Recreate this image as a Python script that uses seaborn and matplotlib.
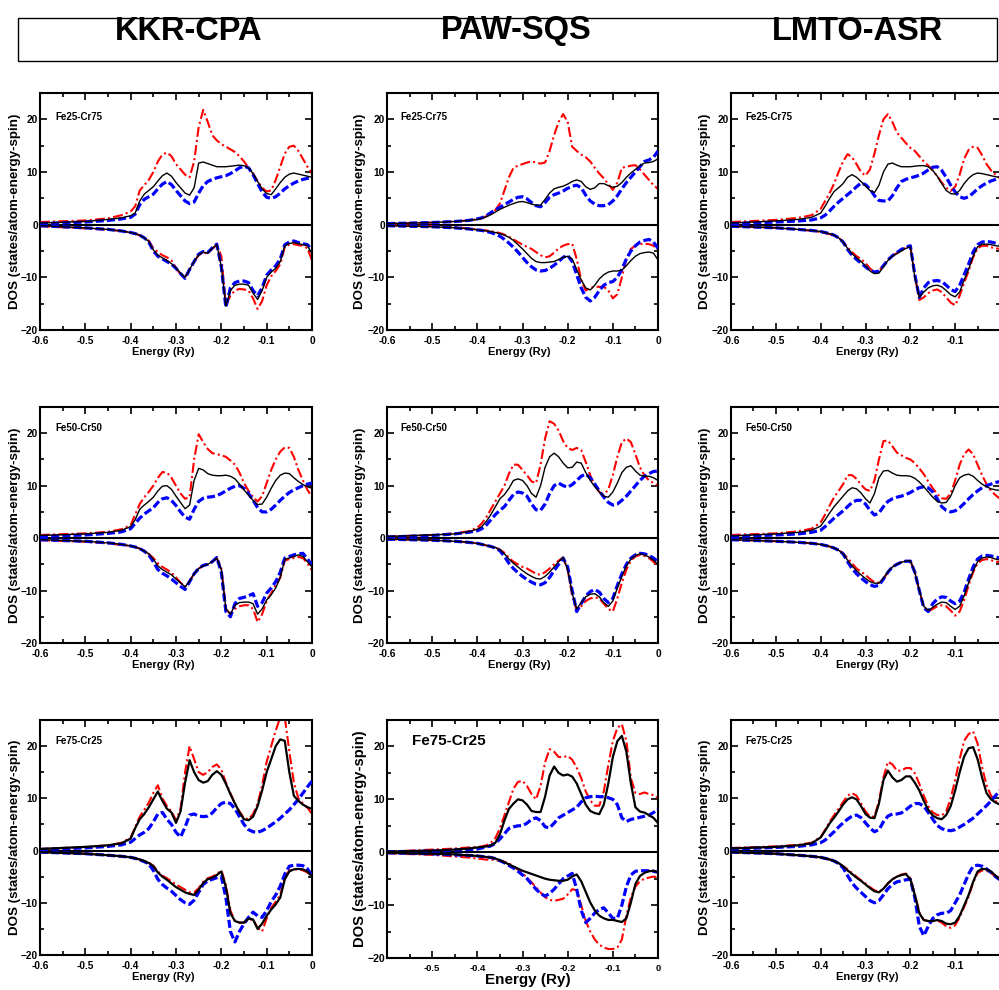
import matplotlib
matplotlib.use("Agg")
import matplotlib.pyplot as plt
from matplotlib.ticker import MultipleLocator, FixedLocator, FuncFormatter
from matplotlib.patches import Rectangle
import seaborn as sns

sns.set_theme(style="ticks")
plt.rcParams["font.family"] = ["Liberation Sans", "DejaVu Sans"]
plt.rcParams["text.color"] = "black"
plt.rcParams["axes.labelcolor"] = "black"
plt.rcParams["xtick.color"] = "black"
plt.rcParams["ytick.color"] = "black"

# ---------------- data ----------------
methods = ["KKR-CPA", "PAW-SQS", "LMTO-ASR"]
alloys = ["Fe25-Cr75", "Fe50-Cr50", "Fe75-Cr25"]

energy = [-0.60, -0.50, -0.45, -0.42,
          -0.40, -0.39, -0.38, -0.37, -0.36, -0.35, -0.34, -0.33, -0.32, -0.31,
          -0.30, -0.29, -0.28, -0.27, -0.26, -0.25, -0.24, -0.23, -0.22, -0.21,
          -0.20, -0.19, -0.18, -0.17, -0.16, -0.15, -0.14, -0.13, -0.12, -0.11,
          -0.10, -0.09, -0.08, -0.07, -0.06, -0.05, -0.04, -0.03, -0.02, -0.01,
          0.00]

# KKR-CPA, Fe25-Cr75
kkr25_tot_up = [0.3, 0.6, 1.0, 1.3, 1.7, 2.2, 4.5, 5.8, 6.5, 7.2, 8.3, 9.3, 9.8, 9.2, 8.0, 7.0, 6.0, 5.6, 7.0, 11.7, 11.9, 11.6, 11.3, 11.0, 11.0, 11.0, 11.1, 11.2, 11.3, 11.2, 10.8, 9.7, 8.2, 6.8, 5.9, 5.7, 6.8, 8.0, 9.0, 9.6, 9.8, 9.6, 9.4, 9.2, 9.0]
kkr25_fe_up = [0.5, 0.8, 1.2, 1.8, 2.5, 3.5, 6.5, 7.5, 8.5, 10.0, 12.0, 13.3, 13.7, 13.0, 11.5, 10.5, 9.5, 9.0, 12.0, 18.5, 21.8, 19.5, 17.0, 16.0, 15.3, 14.8, 14.3, 13.8, 13.0, 12.0, 10.8, 9.7, 8.3, 7.0, 6.3, 6.5, 8.5, 11.0, 13.5, 14.8, 15.0, 14.0, 12.5, 11.0, 9.7]
kkr25_cr_up = [0.2, 0.5, 0.8, 1.1, 1.4, 2.0, 3.8, 4.8, 5.3, 5.8, 6.8, 7.7, 8.2, 7.6, 6.5, 5.5, 4.5, 4.0, 4.3, 6.0, 7.4, 8.2, 8.6, 8.9, 9.1, 9.3, 9.7, 10.2, 10.8, 11.1, 10.8, 9.5, 7.8, 6.2, 5.2, 5.0, 5.3, 6.0, 6.8, 7.4, 7.9, 8.3, 8.6, 8.8, 8.9]
kkr25_tot_dn = [-0.2, -0.6, -0.9, -1.2, -1.5, -1.7, -2.0, -2.5, -3.2, -4.8, -5.8, -6.3, -6.8, -7.4, -8.2, -9.2, -10.0, -8.5, -7.0, -5.7, -5.2, -5.4, -4.5, -3.8, -8.0, -15.5, -12.5, -11.5, -11.3, -11.3, -11.5, -13.0, -14.2, -12.5, -10.0, -9.0, -8.3, -7.0, -4.0, -3.6, -3.4, -3.6, -3.8, -4.0, -5.5]
kkr25_fe_dn = [-0.3, -0.7, -1.0, -1.2, -1.5, -1.7, -2.0, -2.5, -3.0, -4.5, -5.2, -5.8, -6.2, -6.8, -8.2, -9.5, -10.0, -8.5, -7.0, -5.8, -5.3, -5.5, -4.6, -3.8, -6.0, -15.3, -13.5, -12.5, -12.2, -12.3, -12.5, -14.0, -16.0, -14.5, -11.5, -9.8, -8.8, -7.5, -4.2, -3.8, -3.7, -3.9, -4.0, -4.5, -6.8]
kkr25_cr_dn = [-0.2, -0.6, -0.9, -1.2, -1.5, -1.7, -2.0, -2.5, -3.3, -5.0, -6.0, -6.5, -7.0, -7.5, -8.3, -9.3, -10.2, -8.5, -7.0, -5.6, -5.1, -5.3, -4.4, -3.7, -8.0, -15.7, -12.0, -11.0, -10.7, -10.7, -11.0, -12.5, -13.5, -12.0, -9.6, -8.6, -7.8, -6.5, -3.8, -3.3, -3.1, -3.4, -3.6, -3.8, -4.8]

# PAW-SQS, Fe25-Cr75
paw25_tot_up = [0.2, 0.4, 0.6, 0.8, 1.0, 1.2, 1.5, 1.9, 2.4, 2.9, 3.3, 3.7, 4.0, 4.3, 4.4, 4.2, 3.9, 3.7, 3.7, 4.8, 6.0, 6.8, 7.1, 7.3, 7.7, 8.2, 8.5, 8.2, 7.2, 6.7, 7.0, 7.8, 7.8, 7.4, 7.1, 7.3, 8.0, 9.0, 9.8, 10.5, 11.2, 11.7, 11.8, 12.0, 12.5]
paw25_fe_up = [0.2, 0.4, 0.6, 0.8, 1.0, 1.2, 1.6, 2.0, 2.8, 4.0, 6.5, 9.0, 10.8, 11.2, 11.5, 11.8, 12.0, 11.8, 11.6, 11.8, 14.0, 17.0, 19.5, 21.0, 19.5, 14.8, 14.0, 13.3, 12.8, 12.0, 10.8, 9.7, 8.8, 7.7, 6.6, 8.0, 10.8, 11.0, 11.2, 11.3, 10.5, 9.5, 8.5, 7.5, 6.8]
paw25_cr_up = [0.2, 0.4, 0.6, 0.8, 1.1, 1.3, 1.7, 2.3, 2.8, 3.3, 3.8, 4.3, 4.8, 5.2, 5.3, 4.9, 4.2, 3.6, 3.4, 4.2, 5.2, 5.7, 6.0, 6.4, 6.9, 7.3, 7.5, 7.0, 5.6, 4.5, 3.9, 3.6, 3.6, 3.8, 4.5, 5.5, 6.8, 8.0, 9.0, 10.0, 11.0, 12.0, 12.3, 12.8, 14.0]
paw25_tot_dn = [-0.2, -0.4, -0.6, -0.8, -1.0, -1.1, -1.2, -1.3, -1.5, -1.7, -2.0, -2.4, -3.0, -3.8, -4.6, -5.5, -6.4, -7.0, -7.2, -7.2, -7.1, -7.0, -6.6, -6.2, -6.0, -6.5, -8.5, -10.5, -12.0, -12.4, -11.5, -10.3, -9.5, -9.0, -8.8, -8.8, -8.6, -7.8, -6.8, -6.0, -5.5, -5.3, -5.2, -5.4, -6.7]
paw25_fe_dn = [-0.1, -0.3, -0.5, -0.7, -0.9, -1.0, -1.1, -1.2, -1.4, -1.6, -1.9, -2.3, -2.8, -3.3, -3.8, -4.2, -4.6, -5.2, -5.8, -6.2, -6.0, -5.3, -4.5, -4.0, -3.7, -3.6, -6.5, -10.5, -12.5, -12.0, -11.8, -11.8, -11.8, -12.5, -14.0, -13.2, -10.0, -6.5, -4.6, -4.0, -3.7, -3.6, -3.7, -4.0, -4.8]
paw25_cr_dn = [-0.2, -0.4, -0.6, -0.8, -1.0, -1.1, -1.3, -1.5, -1.8, -2.2, -2.8, -3.5, -4.3, -5.2, -6.2, -7.2, -8.0, -8.6, -8.8, -8.7, -8.3, -7.7, -7.0, -6.2, -5.8, -7.0, -9.5, -12.0, -13.8, -14.5, -13.8, -12.5, -11.5, -11.0, -10.8, -10.0, -8.5, -6.5, -5.0, -4.0, -3.3, -3.0, -2.8, -3.3, -4.5]

# LMTO-ASR, Fe25-Cr75
lmto25_tot_up = [0.3, 0.7, 1.0, 1.4, 2.2, 3.5, 5.0, 6.3, 7.0, 7.8, 9.0, 9.5, 9.0, 8.2, 7.3, 6.5, 6.1, 7.5, 10.0, 11.5, 11.7, 11.3, 11.0, 11.0, 11.0, 11.1, 11.2, 11.2, 11.0, 10.3, 9.2, 7.8, 6.5, 5.9, 5.8, 6.5, 7.8, 8.8, 9.5, 9.8, 9.7, 9.5, 9.3, 9.1, 9.0]
lmto25_fe_up = [0.5, 0.9, 1.3, 1.8, 3.0, 4.5, 6.0, 7.8, 10.0, 12.0, 13.4, 12.8, 11.5, 10.0, 9.3, 10.5, 13.5, 17.0, 20.0, 21.0, 19.5, 17.5, 16.5, 15.5, 14.6, 14.0, 13.0, 12.0, 11.2, 10.3, 9.2, 8.0, 7.0, 6.4, 7.2, 9.5, 12.5, 14.2, 14.8, 14.6, 13.2, 11.5, 10.3, 9.5, 8.8]
lmto25_cr_up = [0.2, 0.5, 0.7, 0.9, 1.3, 1.8, 2.6, 3.5, 4.3, 5.0, 5.7, 6.4, 7.2, 7.9, 7.6, 6.8, 5.5, 4.6, 4.5, 4.5, 5.5, 7.0, 8.2, 8.6, 8.9, 9.1, 9.4, 9.8, 10.4, 10.9, 11.0, 10.3, 9.0, 7.5, 6.2, 5.3, 5.0, 5.3, 6.0, 6.8, 7.4, 7.9, 8.3, 8.6, 8.9]
lmto25_tot_dn = [-0.3, -0.6, -0.9, -1.1, -1.3, -1.5, -1.7, -2.0, -2.5, -3.3, -4.5, -5.5, -6.3, -7.0, -7.8, -8.8, -9.3, -9.2, -8.0, -6.8, -6.0, -5.5, -5.0, -4.5, -4.2, -10.0, -13.8, -12.8, -12.0, -11.6, -11.5, -11.8, -12.5, -13.3, -13.7, -12.8, -10.5, -8.5, -6.0, -4.2, -3.7, -3.7, -3.8, -4.0, -4.1]
lmto25_fe_dn = [-0.3, -0.6, -0.9, -1.2, -1.4, -1.6, -1.8, -2.1, -2.5, -3.2, -4.3, -5.2, -6.0, -6.5, -7.3, -8.3, -9.0, -8.8, -7.7, -6.6, -5.9, -5.4, -4.8, -4.3, -4.1, -9.5, -14.3, -13.8, -13.0, -12.5, -12.3, -12.8, -13.8, -14.8, -15.3, -13.5, -11.0, -8.8, -6.2, -4.5, -4.0, -4.0, -4.3, -4.5, -4.6]
lmto25_cr_dn = [-0.3, -0.6, -0.9, -1.1, -1.3, -1.5, -1.7, -2.0, -2.5, -3.3, -4.7, -5.8, -6.6, -7.3, -8.0, -8.7, -9.0, -8.8, -7.8, -6.7, -5.9, -5.3, -4.7, -4.3, -4.0, -9.5, -13.8, -12.0, -11.0, -10.7, -10.6, -10.8, -11.5, -12.3, -12.7, -11.5, -9.5, -7.5, -5.2, -3.8, -3.3, -3.2, -3.3, -3.5, -3.7]

# KKR-CPA, Fe50-Cr50
kkr50_tot_up = [0.5, 0.8, 1.1, 1.5, 2.2, 3.5, 5.5, 6.3, 7.0, 7.8, 9.0, 9.9, 10.0, 9.3, 8.0, 6.8, 5.6, 6.3, 11.0, 13.3, 13.0, 12.3, 12.0, 11.9, 11.9, 12.0, 11.8, 11.3, 10.3, 9.2, 8.2, 7.2, 6.4, 6.5, 7.8, 9.5, 11.0, 12.0, 12.4, 12.3, 11.5, 10.8, 10.2, 9.8, 9.5]
kkr50_fe_up = [0.6, 0.9, 1.2, 1.7, 2.5, 4.5, 6.5, 7.8, 8.8, 10.0, 11.5, 12.6, 12.5, 11.5, 10.0, 8.5, 7.5, 7.8, 15.0, 19.8, 18.3, 17.0, 16.2, 16.0, 15.8, 15.5, 14.8, 14.0, 12.5, 10.5, 9.0, 7.8, 7.0, 8.0, 10.5, 13.0, 15.0, 16.5, 17.3, 17.2, 15.5, 13.0, 11.0, 9.2, 7.8]
kkr50_cr_up = [0.3, 0.6, 0.9, 1.2, 1.8, 2.8, 3.8, 4.6, 5.2, 5.8, 6.8, 7.5, 7.7, 7.2, 6.2, 5.0, 4.0, 3.6, 5.5, 7.0, 7.6, 7.8, 7.9, 8.1, 8.5, 9.0, 9.5, 9.9, 10.0, 9.5, 8.5, 7.2, 5.8, 5.0, 5.0, 5.5, 6.3, 7.2, 8.0, 8.7, 9.2, 9.6, 10.0, 10.3, 10.5]
kkr50_tot_dn = [-0.3, -0.6, -0.9, -1.2, -1.5, -1.7, -2.0, -2.5, -3.0, -4.0, -5.3, -6.0, -6.5, -7.0, -7.8, -8.5, -9.3, -8.2, -6.8, -5.8, -5.3, -5.0, -4.5, -3.8, -6.0, -13.5, -14.5, -12.8, -12.3, -12.2, -12.2, -12.5, -14.5, -13.5, -11.8, -10.8, -9.5, -7.5, -4.0, -3.8, -3.5, -3.2, -3.5, -4.5, -5.5]
kkr50_fe_dn = [-0.4, -0.7, -1.0, -1.3, -1.5, -1.7, -2.0, -2.4, -3.0, -3.8, -4.8, -5.5, -6.0, -6.6, -7.5, -8.5, -9.3, -8.2, -6.8, -5.8, -5.3, -5.0, -4.5, -3.8, -5.8, -13.5, -14.5, -13.5, -13.0, -12.8, -12.8, -13.5, -16.0, -14.5, -12.0, -10.5, -9.0, -7.5, -4.3, -4.0, -3.8, -3.6, -3.8, -4.8, -6.2]
kkr50_cr_dn = [-0.3, -0.6, -0.9, -1.2, -1.5, -1.7, -2.0, -2.5, -3.2, -4.5, -6.0, -6.7, -7.2, -7.8, -8.5, -9.2, -9.8, -8.3, -6.8, -5.8, -5.2, -5.0, -4.5, -3.7, -6.5, -14.0, -15.0, -12.5, -11.5, -11.3, -11.0, -10.6, -13.0, -12.3, -10.5, -9.5, -8.3, -6.5, -3.8, -3.5, -3.2, -3.0, -2.9, -4.0, -5.0]

# PAW-SQS, Fe50-Cr50
paw50_tot_up = [0.3, 0.6, 0.8, 1.2, 1.7, 2.2, 3.2, 4.5, 6.0, 7.5, 8.3, 9.5, 11.0, 11.3, 11.0, 10.0, 8.5, 7.8, 10.0, 13.5, 15.5, 16.2, 15.5, 14.3, 13.4, 13.5, 14.5, 14.3, 12.5, 11.0, 9.8, 8.8, 8.0, 7.8, 8.8, 10.5, 12.5, 13.5, 13.8, 12.8, 12.0, 11.8, 11.8, 11.5, 11.0]
paw50_fe_up = [0.3, 0.6, 0.9, 1.3, 2.0, 2.8, 4.0, 5.5, 7.0, 8.5, 10.0, 12.3, 14.0, 14.0, 13.0, 12.0, 10.8, 10.5, 14.0, 19.0, 22.3, 21.8, 20.5, 18.5, 17.2, 16.8, 17.2, 16.8, 14.5, 12.0, 10.0, 8.8, 8.2, 9.3, 12.0, 15.5, 18.3, 19.0, 18.3, 16.0, 13.5, 12.0, 11.0, 10.5, 10.0]
paw50_cr_up = [0.2, 0.5, 0.8, 1.1, 1.4, 1.8, 2.5, 3.5, 4.5, 5.3, 6.0, 7.2, 8.3, 8.8, 8.6, 8.0, 6.5, 5.4, 5.3, 6.5, 8.5, 10.0, 10.5, 10.0, 9.7, 10.2, 11.0, 11.8, 12.2, 11.5, 10.3, 9.0, 7.8, 6.8, 6.3, 6.5, 7.2, 8.0, 9.0, 10.0, 11.0, 11.8, 12.3, 12.7, 12.8]
paw50_tot_dn = [-0.2, -0.4, -0.6, -0.8, -1.0, -1.2, -1.4, -1.6, -1.8, -2.2, -3.0, -4.0, -4.8, -5.5, -6.2, -6.8, -7.3, -7.7, -7.8, -7.3, -6.5, -5.5, -4.5, -3.7, -6.0, -10.5, -13.5, -12.3, -11.2, -10.7, -10.6, -11.2, -12.3, -13.0, -12.0, -9.5, -7.3, -5.3, -4.0, -3.3, -3.0, -3.2, -3.6, -4.2, -5.0]
paw50_fe_dn = [-0.2, -0.4, -0.6, -0.8, -1.0, -1.2, -1.4, -1.6, -1.8, -2.2, -2.8, -3.8, -4.5, -5.0, -5.5, -5.8, -6.3, -6.8, -7.0, -6.5, -5.8, -5.0, -4.3, -3.7, -6.0, -11.0, -13.8, -13.0, -12.0, -11.5, -11.3, -11.5, -12.5, -13.5, -14.0, -11.5, -8.5, -6.0, -4.3, -3.5, -3.2, -3.4, -3.8, -4.5, -5.5]
paw50_cr_dn = [-0.2, -0.4, -0.6, -0.8, -1.0, -1.2, -1.4, -1.6, -1.9, -2.4, -3.5, -4.8, -5.8, -6.6, -7.3, -7.9, -8.4, -8.8, -8.9, -8.5, -7.5, -6.2, -5.0, -3.8, -5.5, -10.0, -14.0, -12.5, -11.0, -10.2, -9.8, -10.3, -11.5, -12.3, -11.5, -9.0, -6.8, -5.0, -3.8, -3.2, -2.9, -3.0, -3.3, -3.8, -4.5]

# LMTO-ASR, Fe50-Cr50
lmto50_tot_up = [0.4, 0.8, 1.1, 1.5, 2.3, 3.5, 4.8, 6.0, 7.0, 8.0, 9.0, 9.6, 9.4, 8.6, 7.5, 6.7, 8.5, 11.5, 12.8, 12.9, 12.4, 12.0, 11.9, 11.9, 11.8, 11.4, 10.7, 9.8, 8.8, 7.8, 7.0, 6.7, 6.8, 8.0, 10.0, 11.5, 12.0, 12.2, 11.8, 11.0, 10.3, 9.8, 9.4, 9.2, 9.1]
lmto50_fe_up = [0.6, 0.9, 1.3, 1.8, 3.0, 4.5, 6.2, 7.8, 9.0, 10.3, 12.0, 12.0, 11.3, 10.2, 9.3, 9.0, 11.0, 15.0, 18.5, 18.6, 17.5, 16.3, 15.8, 15.3, 15.0, 14.3, 13.3, 12.2, 10.8, 9.5, 8.4, 7.6, 7.5, 8.5, 11.0, 14.0, 16.0, 16.9, 16.0, 14.0, 12.0, 10.3, 9.0, 8.2, 7.5]
lmto50_cr_up = [0.3, 0.6, 0.8, 1.1, 1.5, 2.2, 3.0, 3.8, 4.5, 5.2, 6.0, 6.8, 7.2, 7.2, 6.5, 5.3, 4.4, 4.8, 6.0, 7.0, 7.5, 7.8, 8.0, 8.3, 8.7, 9.2, 9.6, 9.8, 9.6, 8.8, 7.5, 6.0, 5.3, 5.0, 5.2, 5.8, 6.6, 7.5, 8.3, 9.0, 9.6, 10.0, 10.3, 10.6, 10.8]
lmto50_tot_dn = [-0.3, -0.6, -0.8, -1.0, -1.2, -1.4, -1.6, -1.9, -2.3, -3.0, -4.2, -5.3, -6.2, -7.0, -7.7, -8.3, -8.6, -8.6, -7.6, -6.4, -5.5, -5.0, -4.6, -4.4, -4.3, -6.5, -10.0, -13.0, -13.8, -13.2, -12.6, -12.2, -12.3, -13.0, -13.6, -13.0, -11.0, -8.5, -6.3, -4.5, -3.8, -3.6, -3.7, -4.0, -4.2]
lmto50_fe_dn = [-0.3, -0.6, -0.8, -1.0, -1.2, -1.4, -1.6, -1.9, -2.3, -2.9, -3.8, -4.8, -5.8, -6.4, -7.0, -7.8, -8.4, -8.5, -7.8, -6.5, -5.5, -5.0, -4.6, -4.4, -4.3, -6.5, -10.0, -13.0, -14.0, -13.5, -13.0, -12.8, -13.0, -13.8, -14.8, -14.0, -11.8, -9.0, -6.5, -4.8, -4.2, -4.0, -4.2, -4.5, -4.6]
lmto50_cr_dn = [-0.3, -0.6, -0.8, -1.0, -1.2, -1.4, -1.6, -1.9, -2.3, -3.0, -4.5, -5.8, -6.8, -7.6, -8.3, -8.9, -9.2, -9.0, -7.8, -6.5, -5.5, -5.0, -4.6, -4.4, -4.4, -6.5, -10.0, -13.3, -14.0, -12.5, -11.6, -11.2, -11.3, -12.0, -12.5, -12.0, -10.3, -7.8, -5.5, -4.0, -3.4, -3.3, -3.4, -3.6, -3.8]

# KKR-CPA, Fe75-Cr25
kkr75_tot_up = [0.3, 0.7, 1.0, 1.4, 2.3, 4.3, 6.0, 7.0, 8.3, 9.8, 11.3, 9.5, 8.0, 7.3, 5.3, 7.5, 13.0, 17.3, 15.0, 13.5, 13.0, 13.3, 14.5, 15.2, 14.5, 12.8, 10.8, 9.0, 7.3, 6.0, 5.8, 6.5, 8.5, 11.5, 15.0, 17.5, 20.0, 21.3, 21.0, 15.0, 10.5, 9.5, 8.8, 8.3, 8.0]
kkr75_fe_up = [0.3, 0.7, 1.0, 1.5, 2.5, 4.5, 6.5, 7.8, 9.2, 11.0, 12.5, 10.0, 8.5, 7.5, 5.8, 8.0, 15.0, 20.0, 17.5, 15.0, 14.5, 15.0, 16.0, 16.5, 15.5, 13.0, 11.0, 9.0, 7.5, 6.2, 6.0, 7.0, 9.0, 12.5, 17.0, 20.0, 23.0, 25.5, 25.5, 19.0, 13.0, 10.0, 9.0, 8.2, 7.0]
kkr75_cr_up = [0.2, 0.5, 0.8, 1.1, 1.6, 2.3, 3.0, 3.5, 4.2, 5.5, 7.0, 7.3, 6.0, 5.0, 3.5, 2.6, 4.5, 6.8, 7.0, 6.6, 6.5, 6.6, 7.2, 8.2, 9.0, 9.3, 9.0, 8.0, 6.5, 5.0, 4.0, 3.6, 3.5, 3.8, 4.3, 4.9, 5.5, 6.2, 7.0, 7.8, 8.8, 9.8, 11.0, 12.2, 13.3]
kkr75_tot_dn = [-0.3, -0.6, -0.9, -1.1, -1.3, -1.5, -1.7, -2.0, -2.4, -3.0, -4.2, -5.0, -5.6, -6.3, -7.0, -7.5, -8.0, -8.3, -8.5, -7.5, -6.2, -5.5, -5.2, -4.7, -4.0, -7.0, -12.0, -13.5, -13.8, -13.8, -13.0, -13.2, -15.0, -14.0, -12.5, -11.3, -10.3, -9.0, -5.5, -4.0, -3.6, -3.5, -3.6, -4.0, -5.0]
kkr75_fe_dn = [-0.3, -0.6, -0.9, -1.1, -1.3, -1.5, -1.7, -2.0, -2.3, -2.9, -4.0, -4.8, -5.3, -5.9, -6.5, -7.0, -7.5, -8.0, -8.0, -7.2, -6.0, -5.3, -5.0, -4.5, -3.8, -6.5, -11.5, -13.5, -13.8, -13.8, -13.3, -13.2, -14.8, -15.5, -13.0, -11.0, -9.8, -8.5, -5.0, -3.8, -3.6, -3.6, -3.8, -4.2, -5.0]
kkr75_cr_dn = [-0.3, -0.6, -0.9, -1.1, -1.3, -1.5, -1.8, -2.1, -2.6, -3.8, -5.5, -6.5, -7.2, -7.8, -8.6, -9.4, -10.0, -10.3, -9.5, -8.0, -6.5, -5.8, -5.5, -5.2, -5.0, -9.0, -15.5, -17.5, -15.5, -14.0, -12.8, -11.8, -12.5, -12.8, -11.5, -9.8, -8.5, -6.8, -4.5, -3.0, -2.8, -2.8, -2.9, -3.5, -4.8]

# PAW-SQS, Fe75-Cr25
paw75_tot_up = [0.1, 0.3, 0.5, 0.7, 0.9, 1.0, 1.1, 1.3, 1.8, 3.4, 6.0, 8.2, 9.2, 10.0, 9.8, 9.0, 7.8, 7.6, 7.6, 10.5, 14.5, 16.2, 15.0, 14.5, 14.7, 14.3, 13.0, 11.0, 9.0, 7.8, 7.4, 7.2, 9.0, 13.0, 18.0, 21.0, 22.0, 19.0, 13.0, 8.5, 7.7, 7.5, 7.0, 6.5, 5.5]
paw75_fe_up = [0.1, 0.5, 0.7, 0.9, 1.0, 1.1, 1.3, 1.8, 2.7, 4.5, 7.0, 9.5, 12.0, 13.3, 13.5, 12.5, 11.0, 10.0, 12.5, 17.0, 19.5, 19.0, 18.0, 18.0, 18.2, 17.5, 16.0, 14.0, 11.5, 9.8, 8.8, 8.8, 11.5, 16.5, 21.0, 23.5, 24.2, 21.0, 14.0, 11.2, 11.0, 11.3, 11.0, 10.8, 10.2]
paw75_cr_up = [0.1, 0.2, 0.4, 0.5, 0.6, 0.8, 1.0, 1.2, 1.7, 2.5, 3.5, 4.5, 4.8, 5.0, 5.0, 5.5, 6.2, 6.5, 6.0, 4.8, 4.6, 5.5, 6.5, 7.0, 7.5, 8.0, 8.5, 9.5, 10.3, 10.5, 10.6, 10.5, 10.5, 10.3, 10.0, 9.0, 6.5, 5.8, 6.2, 6.4, 6.6, 6.8, 7.0, 7.5, 8.2]
paw75_tot_dn = [-0.1, -0.3, -0.4, -0.6, -0.7, -0.8, -0.9, -1.0, -1.2, -1.5, -1.9, -2.3, -2.7, -3.1, -3.5, -3.8, -4.1, -4.4, -4.7, -5.0, -5.2, -5.3, -5.4, -5.4, -5.2, -4.6, -4.2, -5.5, -7.5, -9.5, -11.0, -12.0, -12.5, -12.8, -12.8, -13.0, -13.2, -12.5, -9.5, -6.0, -4.5, -3.9, -3.6, -3.5, -3.8]
paw75_fe_dn = [-0.2, -0.5, -0.8, -1.0, -1.2, -1.3, -1.4, -1.4, -1.5, -1.6, -1.8, -2.1, -2.7, -3.3, -4.0, -4.8, -5.7, -6.6, -7.6, -8.5, -9.0, -9.2, -9.0, -8.8, -8.0, -7.0, -7.2, -10.0, -13.0, -15.0, -16.5, -17.5, -18.0, -18.3, -18.3, -18.0, -16.5, -12.0, -8.5, -6.5, -5.5, -5.0, -4.8, -4.6, -4.8]
paw75_cr_dn = [-0.1, -0.3, -0.5, -0.6, -0.7, -0.8, -0.9, -1.0, -1.2, -1.6, -2.0, -2.5, -3.0, -3.6, -4.3, -5.0, -6.0, -7.0, -7.8, -8.3, -7.8, -7.0, -6.0, -5.0, -4.5, -4.0, -7.0, -11.0, -13.3, -12.5, -11.5, -10.8, -10.5, -11.5, -12.5, -12.5, -10.0, -6.5, -4.3, -3.6, -3.5, -3.5, -3.5, -3.6, -3.8]

# LMTO-ASR, Fe75-Cr25
lmto75_tot_up = [0.4, 0.7, 1.0, 1.4, 2.5, 3.8, 5.2, 6.3, 7.5, 8.8, 9.8, 10.2, 9.8, 8.5, 7.0, 6.3, 6.2, 9.0, 13.5, 15.3, 14.0, 13.2, 13.5, 14.2, 14.2, 13.0, 11.5, 9.5, 7.8, 6.7, 6.2, 6.0, 6.8, 8.5, 11.5, 15.0, 18.0, 19.6, 19.8, 17.5, 14.0, 11.0, 9.8, 9.2, 8.8]
lmto75_fe_up = [0.5, 0.8, 1.1, 1.5, 2.6, 4.0, 5.5, 6.8, 8.0, 9.3, 10.5, 11.0, 10.5, 9.0, 7.5, 6.5, 6.5, 9.5, 14.0, 17.0, 16.5, 15.3, 15.3, 15.8, 15.8, 14.8, 12.8, 10.5, 8.5, 7.3, 6.8, 6.7, 7.5, 10.0, 13.5, 17.5, 21.0, 22.3, 22.8, 20.5, 16.0, 12.5, 10.5, 9.5, 9.0]
lmto75_cr_up = [0.3, 0.6, 0.8, 1.1, 1.5, 2.0, 2.8, 3.6, 4.5, 5.3, 6.0, 6.6, 6.8, 6.3, 5.3, 4.3, 3.6, 4.0, 5.5, 6.6, 7.0, 7.0, 7.2, 7.8, 8.5, 9.0, 9.0, 8.5, 7.3, 6.0, 4.8, 4.2, 3.9, 3.8, 4.0, 4.5, 5.0, 5.6, 6.2, 7.0, 7.8, 8.6, 9.5, 10.5, 11.5]
lmto75_tot_dn = [-0.3, -0.6, -0.9, -1.1, -1.3, -1.5, -1.7, -2.0, -2.4, -3.0, -3.8, -4.5, -5.2, -5.8, -6.5, -7.2, -7.8, -8.0, -7.3, -6.3, -5.5, -5.0, -4.7, -4.5, -5.5, -8.5, -12.0, -13.3, -13.5, -13.5, -13.3, -13.5, -14.0, -14.1, -13.8, -12.5, -10.5, -8.5, -6.0, -4.0, -3.5, -3.6, -4.0, -4.8, -5.5]
lmto75_fe_dn = [-0.3, -0.6, -0.9, -1.1, -1.3, -1.5, -1.7, -2.0, -2.4, -3.0, -3.6, -4.3, -5.0, -5.7, -6.3, -7.0, -7.6, -7.9, -7.3, -6.3, -5.5, -5.0, -4.6, -4.4, -5.3, -8.3, -11.8, -13.3, -13.5, -13.5, -13.4, -13.8, -14.5, -14.8, -14.3, -12.8, -10.8, -8.8, -6.2, -4.3, -3.8, -3.9, -4.3, -5.0, -5.6]
lmto75_cr_dn = [-0.3, -0.6, -0.9, -1.1, -1.3, -1.5, -1.7, -2.0, -2.5, -3.3, -4.8, -6.2, -7.2, -8.0, -8.8, -9.6, -10.0, -9.6, -8.5, -7.3, -6.5, -6.0, -5.8, -5.6, -5.5, -9.0, -14.5, -16.3, -14.5, -13.0, -12.3, -12.0, -12.0, -11.5, -10.0, -8.5, -6.5, -4.5, -3.0, -2.8, -3.0, -3.5, -4.2, -5.0, -5.6]

panels = {
    ("Fe25-Cr75", "KKR-CPA"): (kkr25_fe_up, kkr25_cr_up, kkr25_tot_up, kkr25_fe_dn, kkr25_cr_dn, kkr25_tot_dn),
    ("Fe25-Cr75", "PAW-SQS"): (paw25_fe_up, paw25_cr_up, paw25_tot_up, paw25_fe_dn, paw25_cr_dn, paw25_tot_dn),
    ("Fe25-Cr75", "LMTO-ASR"): (lmto25_fe_up, lmto25_cr_up, lmto25_tot_up, lmto25_fe_dn, lmto25_cr_dn, lmto25_tot_dn),
    ("Fe50-Cr50", "KKR-CPA"): (kkr50_fe_up, kkr50_cr_up, kkr50_tot_up, kkr50_fe_dn, kkr50_cr_dn, kkr50_tot_dn),
    ("Fe50-Cr50", "PAW-SQS"): (paw50_fe_up, paw50_cr_up, paw50_tot_up, paw50_fe_dn, paw50_cr_dn, paw50_tot_dn),
    ("Fe50-Cr50", "LMTO-ASR"): (lmto50_fe_up, lmto50_cr_up, lmto50_tot_up, lmto50_fe_dn, lmto50_cr_dn, lmto50_tot_dn),
    ("Fe75-Cr25", "KKR-CPA"): (kkr75_fe_up, kkr75_cr_up, kkr75_tot_up, kkr75_fe_dn, kkr75_cr_dn, kkr75_tot_dn),
    ("Fe75-Cr25", "PAW-SQS"): (paw75_fe_up, paw75_cr_up, paw75_tot_up, paw75_fe_dn, paw75_cr_dn, paw75_tot_dn),
    ("Fe75-Cr25", "LMTO-ASR"): (lmto75_fe_up, lmto75_cr_up, lmto75_tot_up, lmto75_fe_dn, lmto75_cr_dn, lmto75_tot_dn),
}

# ---------------- layout ----------------
W, H = 999, 990
fig = plt.figure(figsize=(W / 100, H / 100), dpi=100)


def frac(left, top, width, height):
    return [left / W, 1 - (top + height) / H, width / W, height / H]


fig.add_artist(Rectangle((18 / W, 1 - 61 / H), (997 - 18) / W, 43 / H,
                         transform=fig.transFigure, fill=False, ec="black", lw=1.0))
for name, xc in zip(methods, [189, 516, 858]):
    fig.text(xc / W, 1 - 31 / H, name, ha="center", va="center",
             fontsize=23.5, fontweight="bold", color="black")

col_left = [40, 387, 731]
col_width = [272, 271, 269]
row_top = [93, 407, 720]
row_height = [237, 236, 235]
xlabel_x = [0.452, 0.487, 0.506]
ylabel_x = [-0.092, -0.1, -0.097]
text_x = [0.055, 0.048, 0.052]


def xfmt(v, pos):
    return "0" if abs(v) < 1e-9 else f"{v:.1f}"


def xfmt_no_first(v, pos):
    if abs(v + 0.6) < 1e-9:
        return ""
    return xfmt(v, pos)


def xfmt_no_last(v, pos):
    if abs(v) < 1e-9:
        return ""
    return xfmt(v, pos)


for r, alloy in enumerate(alloys):
    for c, method in enumerate(methods):
        special = (r == 2 and c == 1)
        h = 238 if special else row_height[r]
        ax = fig.add_axes(frac(col_left[c], row_top[r], col_width[c], h))
        fe_up, cr_up, tot_up, fe_dn, cr_dn, tot_dn = panels[(alloy, method)]
        tot_lw = 1.6 if r == 2 else 1.0
        ax.axhline(0, color="black", lw=1.5, zorder=1)
        for up, dn, color, lw, ls, z in [
            (fe_up, fe_dn, "#ff0000", 1.5, (0, (4.8, 1.5, 1.0, 1.5)), 2),
            (cr_up, cr_dn, "#0000ff", 2.3, (0, (2.5, 1.0)), 3),
            (tot_up, tot_dn, "black", tot_lw, "-", 4),
        ]:
            for vals in (up, dn):
                sns.lineplot(x=energy, y=vals, ax=ax, color=color, linewidth=lw,
                             linestyle=ls, errorbar=None, sort=False, legend=False,
                             zorder=z)
        ax.set_xlim(-0.6, 0.0)
        ax.set_ylim(-20, 25)
        ax.xaxis.set_major_locator(MultipleLocator(0.1))
        ax.xaxis.set_minor_locator(MultipleLocator(0.05))
        ax.yaxis.set_major_locator(FixedLocator([-20, -10, 0, 10, 20]))
        ax.yaxis.set_minor_locator(FixedLocator([-15, -5, 5, 15]))
        if special:
            fmt = xfmt_no_first
        elif c == 2:
            fmt = xfmt_no_last
        else:
            fmt = xfmt
        ax.xaxis.set_major_formatter(FuncFormatter(fmt))
        ax.tick_params(which="both", direction="in", top=True, right=True,
                       width=1.2, colors="black")
        ax.tick_params(which="major", length=5)
        ax.tick_params(which="minor", length=3)
        ax.tick_params(axis="x", pad=4, labelsize=6.8 if special else 7.3)
        ax.tick_params(axis="y", pad=1.5, labelsize=7.6 if special else 7.3)
        for lab in ax.get_xticklabels() + ax.get_yticklabels():
            lab.set_fontweight("bold")
        for sp in ax.spines.values():
            sp.set_linewidth(1.5)
            sp.set_color("black")
        ax.grid(False)
        if special:
            ax.set_xlabel("Energy (Ry)", fontsize=11, fontweight="bold", va="center")
            ax.xaxis.set_label_coords(0.518, -22 / h)
            ax.set_ylabel("DOS (states/atom-energy-spin)", fontsize=10.6,
                          fontweight="bold", va="center")
            ax.yaxis.set_label_coords(-0.1, 0.5)
            ax.text(0.092, 0.91, alloy, transform=ax.transAxes, fontsize=11,
                    fontweight="bold", ha="left", va="center")
        else:
            ax.set_xlabel("Energy (Ry)", fontsize=8, fontweight="bold", va="center")
            ax.xaxis.set_label_coords(xlabel_x[c], -22 / h)
            ax.set_ylabel("DOS (states/atom-energy-spin)", fontsize=9.6,
                          fontweight="bold", va="center")
            ax.yaxis.set_label_coords(ylabel_x[c], 0.5)
            ax.text(text_x[c], 0.9 if r == 0 else 0.91, alloy, transform=ax.transAxes,
                    fontsize=7, fontweight="bold", ha="left", va="center")

fig.savefig("out.png", dpi=100)
